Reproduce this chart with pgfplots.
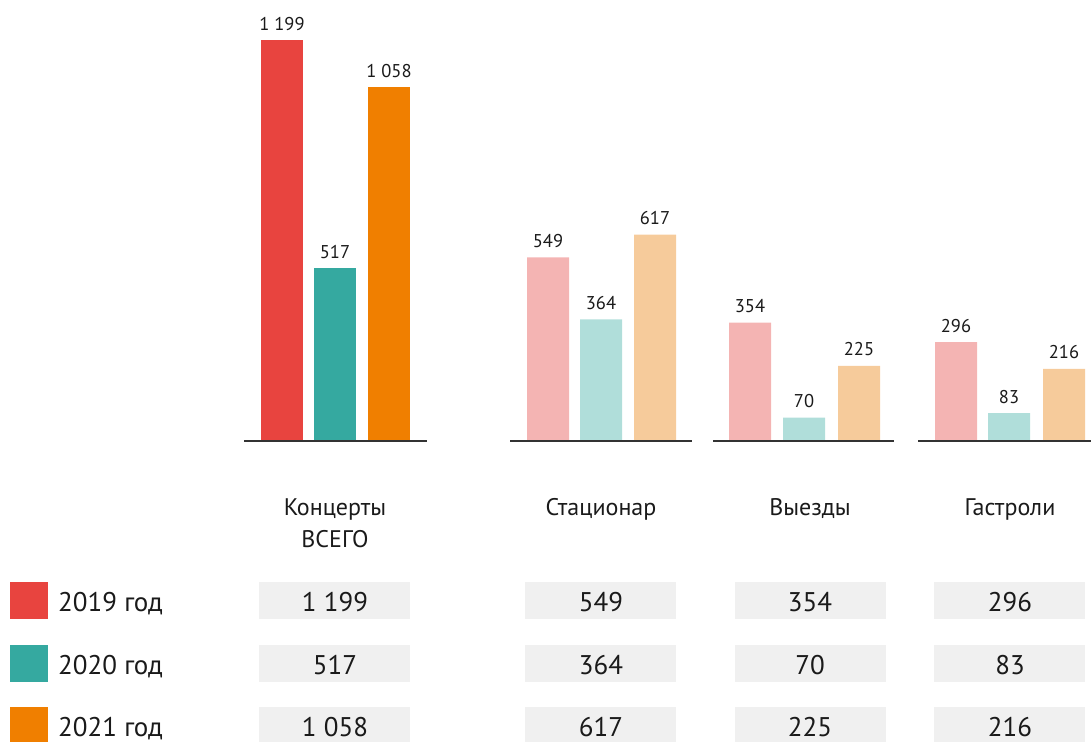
\documentclass[border=0pt]{standalone}
\usepackage{pgfplots}
\pgfplotsset{compat=1.18}
\usepackage{fontspec}
\setmainfont{PT Sans}
\definecolor{c19}{HTML}{E8443F}
\definecolor{c20}{HTML}{35A9A0}
\definecolor{c21}{HTML}{F07F00}
\definecolor{p19}{HTML}{F4B4B3}
\definecolor{p20}{HTML}{B0DEDA}
\definecolor{p21}{HTML}{F6CB9B}
\definecolor{boxgray}{HTML}{F0F0F0}
\definecolor{txt}{HTML}{1A1A1A}
\definecolor{base}{HTML}{333333}

\begin{document}
\begin{tikzpicture}[x=1pt,y=1pt]
\useasboundingbox (0,0) rectangle (1091,742);
% bars: 1 px = 1 pt, baseline at pixel row 441, 0.3344 px per concert
\begin{axis}[
    at={(0,0)}, anchor=south west,
    scale only axis, width=1091pt, height=742pt,
    xmin=0, xmax=1091, ymin=-900.1, ymax=1318.8,
    hide axis, clip=false,
    every axis plot/.append style={ybar, bar width=42, bar shift=0pt, draw=none},
    nodes near coords={\pgfmathprintnumber[1000 sep={\ }, assume math mode=true]{\pgfplotspointmeta}},
    every node near coord/.append style={anchor=base, yshift=10pt, font=\fontsize{18.5}{20}\selectfont, text=txt},
]
\addplot[fill=c19] coordinates {(282,1199)};
\addplot[fill=c20] coordinates {(335,517)};
\addplot[fill=c21] coordinates {(389,1058)};
\addplot[fill=p19] coordinates {(548,549) (750,354) (956,296)};
\addplot[fill=p20] coordinates {(601,364) (804,70) (1009,83)};
\addplot[fill=p21] coordinates {(655,617) (859,225) (1064,216)};
\end{axis}

% baselines
\begin{scope}[draw=base, line width=2pt]
\draw (244,301) -- (427,301);
\draw (510,301) -- (692,301);
\draw (713,301) -- (894,301);
\draw (918,301) -- (1091,301);
\end{scope}

% category labels
\begin{scope}[font=\fontsize{24}{32}\selectfont, text=txt]
\node[anchor=base] at (335,227) {Концерты};
\node[anchor=base] at (335,195) {ВСЕГО};
\node[anchor=base] at (601,227) {Стационар};
\node[anchor=base] at (810,227) {Выезды};
\node[anchor=base] at (1010,227) {Гастроли};
\end{scope}

% legend and table
\begin{scope}[font=\fontsize{27}{30}\selectfont, text=txt]
\fill[c19] (10,123) rectangle (48,160);
\fill[c20] (10,60) rectangle (48,97);
\fill[c21] (10,0) rectangle (48,35);
\node[anchor=base west, inner sep=0pt] at (58,131) {2019 год};
\node[anchor=base west, inner sep=0pt] at (58,68) {2020 год};
\node[anchor=base west, inner sep=0pt] at (58,6) {2021 год};
\foreach \xa/\cx/\va/\vb/\vc in {259/335/1 199/517/1 058, 525/601/549/364/617, 735/810/354/70/225, 934/1010/296/83/216} {
  \fill[boxgray] (\xa,123) rectangle ++(151,37);
  \fill[boxgray] (\xa,60) rectangle ++(151,37);
  \fill[boxgray] (\xa,0) rectangle ++(151,35);
  \node[anchor=base] at (\cx,131) {\va};
  \node[anchor=base] at (\cx,68) {\vb};
  \node[anchor=base] at (\cx,6) {\vc};
}
\end{scope}
\end{tikzpicture}
\end{document}
